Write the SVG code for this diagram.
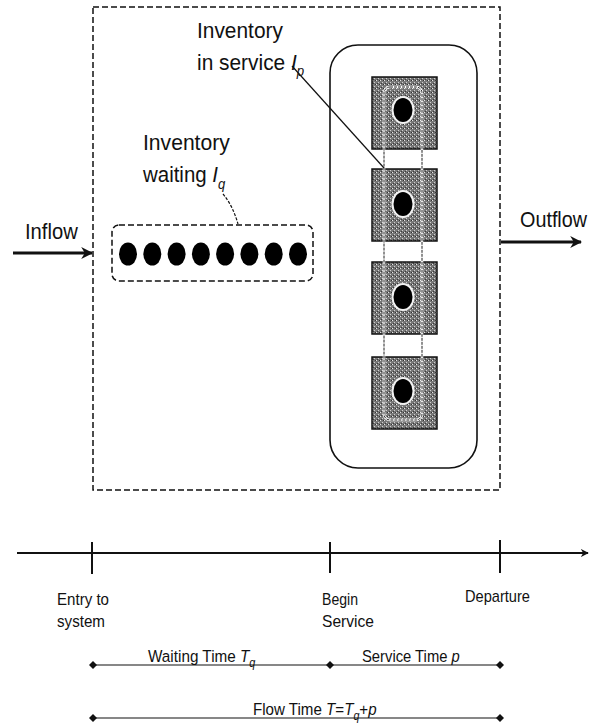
<svg xmlns="http://www.w3.org/2000/svg" width="593" height="726" viewBox="0 0 593 726">
  <style>
    .lbl { font-family: "Liberation Sans", Arial, sans-serif; fill: #111; }
    .big { font-size: 22px; }
    .sm { font-size: 17px; }
    .it { font-style: italic; }
    .dash-box { fill: none; stroke: #111; stroke-width: 1.5; stroke-dasharray: 6 3; }
    .solid { fill: none; stroke: #111; stroke-width: 1.6; }
    .server { fill: url(#stipple); stroke: #111; stroke-width: 1.5; }
    .job { fill: #000; }
    .halo { fill: #f2f2f2; }
    .axis { stroke: #111; stroke-width: 2; fill: none; }
    .tick { stroke: #111; stroke-width: 2; }
    .span { stroke: #111; stroke-width: 1.2; fill: none; }
  </style>
  <defs>
    <pattern id="stipple" width="4" height="4" patternUnits="userSpaceOnUse">
      <rect width="4" height="4" fill="#777"/>
      <rect x="0" y="0" width="1" height="1" fill="#e6e6e6"/>
      <rect x="2" y="2" width="1" height="1" fill="#d0d0d0"/>
      <rect x="3" y="0" width="1" height="1" fill="#333"/>
      <rect x="1" y="3" width="1" height="1" fill="#3c3c3c"/>
    </pattern>
    <marker id="arrow" viewBox="0 0 10 10" refX="9" refY="5" markerWidth="4" markerHeight="4" orient="auto" markerUnits="strokeWidth">
      <path d="M0,0 L10,5 L0,10 L3,5 z" fill="#111"/>
    </marker>
    <marker id="diamond" viewBox="0 0 10 10" refX="5" refY="5" markerWidth="8" markerHeight="10" orient="auto" markerUnits="userSpaceOnUse">
      <path d="M5,0 L10,5 L5,10 L0,5 z" fill="#111"/>
    </marker>
  </defs>

  <!-- system boundary -->
  <g id="system">
    <rect class="dash-box" x="93" y="7" width="407" height="483"/>
  </g>

  <!-- queue of waiting jobs -->
  <g id="queue">
    <rect class="dash-box" x="112" y="225" width="201" height="56" rx="7" stroke-dasharray="4 1.5" stroke-width="1.3"/>
    <ellipse class="job" cx="128" cy="254" rx="9" ry="11.5"/>
    <ellipse class="job" cx="152.3" cy="254" rx="9" ry="11.5"/>
    <ellipse class="job" cx="176.6" cy="254" rx="9" ry="11.5"/>
    <ellipse class="job" cx="200.9" cy="254" rx="9" ry="11.5"/>
    <ellipse class="job" cx="225.1" cy="254" rx="9" ry="11.5"/>
    <ellipse class="job" cx="249.4" cy="254" rx="9" ry="11.5"/>
    <ellipse class="job" cx="273.7" cy="254" rx="9" ry="11.5"/>
    <ellipse class="job" cx="298" cy="254" rx="9" ry="11.5"/>
  </g>

  <!-- service station with four servers -->
  <g id="station">
    <rect class="solid" x="330" y="45" width="147" height="423" rx="28"/>
    <rect class="server" x="372" y="77" width="65" height="72"/>
    <rect class="server" x="372" y="169" width="65" height="72"/>
    <rect class="server" x="372" y="262" width="65" height="72"/>
    <rect class="server" x="372" y="357" width="65" height="72"/>
    <rect x="384" y="87" width="38" height="333" rx="6" fill="none" stroke="#fff" stroke-width="2.5"/>
    <rect x="384" y="87" width="38" height="333" rx="6" fill="none" stroke="#222" stroke-width="1" stroke-dasharray="3 1"/>
    <ellipse class="halo" cx="403" cy="110" rx="11.5" ry="14"/>
    <ellipse class="job" cx="403" cy="110" rx="9.5" ry="12"/>
    <ellipse class="halo" cx="403" cy="204" rx="11.5" ry="14"/>
    <ellipse class="job" cx="403" cy="204" rx="9.5" ry="12"/>
    <ellipse class="halo" cx="403" cy="297" rx="11.5" ry="14"/>
    <ellipse class="job" cx="403" cy="297" rx="9.5" ry="12"/>
    <ellipse class="halo" cx="403" cy="391" rx="11.5" ry="14"/>
    <ellipse class="job" cx="403" cy="391" rx="9.5" ry="12"/>
  </g>

  <!-- labels inside the system -->
  <g id="label-service">
    <text class="lbl big" transform="translate(197,38) scale(0.95,1)">Inventory</text>
    <text class="lbl big" transform="translate(197,70) scale(0.95,1)">in service <tspan class="it">I</tspan><tspan class="it" font-size="14" dy="6">p</tspan></text>
  </g>
  <g id="label-waiting">
    <text class="lbl big" transform="translate(143,150) scale(0.96,1)">Inventory</text>
    <text class="lbl big" transform="translate(143,182) scale(0.93,1)">waiting <tspan class="it">I</tspan><tspan class="it" font-size="14" dy="7">q</tspan></text>
  </g>
  <g id="label-inflow">
    <text class="lbl big" transform="translate(25,239) scale(0.92,1)">Inflow</text>
  </g>
  <g id="label-outflow">
    <text class="lbl big" transform="translate(520,227) scale(0.9,1)">Outflow</text>
  </g>

  <!-- connectors -->
  <g id="connectors">
    <line x1="13" y1="253" x2="92" y2="253" stroke="#111" stroke-width="3" marker-end="url(#arrow)"/>
    <line x1="501" y1="242" x2="581" y2="242" stroke="#111" stroke-width="3" marker-end="url(#arrow)"/>
    <line x1="292" y1="66" x2="384" y2="168" stroke="#111" stroke-width="1.2"/>
    <path d="M223,194 Q233,206 238,224" fill="none" stroke="#111" stroke-width="1.2" stroke-dasharray="3 1.5"/>
  </g>

  <!-- time axis -->
  <g id="timeline">
    <line class="axis" x1="17" y1="553" x2="588" y2="553" marker-end="url(#arrow)"/>
    <line class="tick" x1="92" y1="542" x2="92" y2="574"/>
    <line class="tick" x1="330" y1="542" x2="330" y2="573"/>
    <line class="tick" x1="500" y1="540" x2="500" y2="573"/>
    <text class="lbl sm" x="57" y="605" textLength="52" lengthAdjust="spacingAndGlyphs">Entry to</text>
    <text class="lbl sm" x="57" y="627" textLength="48" lengthAdjust="spacingAndGlyphs">system</text>
    <text class="lbl sm" x="322" y="605" textLength="36" lengthAdjust="spacingAndGlyphs">Begin</text>
    <text class="lbl sm" x="322" y="627" textLength="52" lengthAdjust="spacingAndGlyphs">Service</text>
    <text class="lbl sm" x="465" y="602" textLength="65" lengthAdjust="spacingAndGlyphs">Departure</text>
  </g>

  <!-- time intervals -->
  <g id="intervals">
    <line class="span" x1="93" y1="665" x2="330" y2="665" marker-start="url(#diamond)" marker-end="url(#diamond)"/>
    <line class="span" x1="330" y1="665" x2="500" y2="665" marker-end="url(#diamond)"/>
    <line class="span" x1="93" y1="718" x2="500" y2="718" stroke-width="3" marker-start="url(#diamond)" marker-end="url(#diamond)"/>
    <text class="lbl sm" transform="translate(148,662) scale(0.9,1)">Waiting Time <tspan class="it">T</tspan><tspan class="it" font-size="12" dy="5">q</tspan></text>
    <text class="lbl sm" transform="translate(362,662) scale(0.87,1)">Service Time <tspan class="it">p</tspan></text>
    <text class="lbl sm" transform="translate(253,715) scale(0.89,1)">Flow Time <tspan class="it">T</tspan>=<tspan class="it">T</tspan><tspan class="it" font-size="12" dy="5">q</tspan><tspan dy="-5">+</tspan><tspan class="it">p</tspan></text>
  </g>
</svg>
